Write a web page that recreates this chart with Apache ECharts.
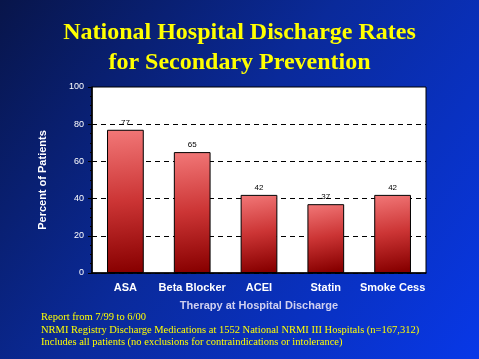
<!DOCTYPE html>
<html><head><meta charset="utf-8">
<script src="https://cdn.jsdelivr.net/npm/echarts@6/dist/echarts.min.js"></script>
<style>html,body{margin:0;padding:0;}#c{width:479px;height:359px;}</style>
</head><body><div id="c"></div>
<script>
const categories = ['ASA', 'Beta Blocker', 'ACEI', 'Statin', 'Smoke Cess'];
const values = [77, 65, 42, 37, 42];
const yTicks = [0, 20, 40, 60, 80, 100];
const titleLines = ['National Hospital Discharge Rates', 'for Secondary Prevention'];
const footnotes = [
  'Report from 7/99 to 6/00',
  'NRMI Registry Discharge Medications at 1552 National NRMI III Hospitals (n=167,312)',
  'Includes all patients (no exclusions for contraindications or intolerance)'
];

const chart = echarts.init(document.getElementById('c'));
chart.setOption({
  animation: false,
  backgroundColor: new echarts.graphic.LinearGradient(0, 0, 1, 1, [
    {offset: 0, color: '#08154a'},
    {offset: 0.45, color: '#0a2a9a'},
    {offset: 1, color: '#0838e8'}
  ]),
  title: {
    text: titleLines.join('\n'),
    left: 'center', top: 13,
    textStyle: {
      color: '#ffff00', fontFamily: 'Liberation Serif', fontWeight: 'bold',
      fontSize: 24, lineHeight: 30,
      textShadowColor: '#000', textShadowOffsetX: 2, textShadowOffsetY: 2, textShadowBlur: 0
    }
  },
  grid: {left: 92, right: 53, top: 87, bottom: 86, show: true, backgroundColor: '#ffffff', borderWidth: 1, borderColor: '#000'},
  xAxis: {
    type: 'category', data: categories,
    name: 'Therapy at Hospital Discharge', nameLocation: 'middle', nameGap: 27,
    nameTextStyle: {color: '#d0d0f0', fontFamily: 'Liberation Sans', fontWeight: 'bold', fontSize: 11},
    axisLine: {lineStyle: {color: '#000', width: 1.5}},
    axisTick: {show: false},
    axisLabel: {interval: 0, color: '#fff', fontFamily: 'Liberation Sans', fontWeight: 'bold', fontSize: 11, margin: 9}
  },
  yAxis: {
    type: 'value', min: 0, max: 100, interval: 20,
    name: 'Percent of Patients', nameLocation: 'middle', nameGap: 44, nameRotate: 90,
    nameTextStyle: {color: '#fff', fontFamily: 'Liberation Sans', fontWeight: 'bold', fontSize: 11},
    axisLine: {show: true, lineStyle: {color: '#000', width: 1.5}},
    axisTick: {show: true, inside: false, length: 4, lineStyle: {color: '#000'}},
    minorTick: {show: true, splitNumber: 4, length: 2, lineStyle: {color: '#000'}},
    axisLabel: {color: '#fff', fontFamily: 'Liberation Sans', fontSize: 9, margin: 8,
      formatter: v => yTicks.includes(v) ? String(v) : ''},
    splitLine: {show: true, lineStyle: {color: ['#000', '#000', '#000', '#000', '#000', 'rgba(0,0,0,0)'], type: [5, 4], width: 1}}
  },
  series: [{
    type: 'bar', data: values, barWidth: '55%',
    itemStyle: {
      borderColor: '#000', borderWidth: 1,
      color: new echarts.graphic.LinearGradient(0, 0, 0.35, 1, [
        {offset: 0, color: '#f27878'},
        {offset: 0.5, color: '#cc3535'},
        {offset: 1, color: '#880000'}
      ])
    },
    label: {show: true, position: 'top', color: '#000', fontFamily: 'Liberation Sans', fontSize: 8, distance: 3}
  }],
  graphic: footnotes.map((t, i) => ({
    type: 'text', left: 41, top: 312 + i * 12.5,
    style: {text: t, fill: '#ffff00', font: '10.5px "Liberation Serif"'}
  }))
});
</script></body></html>
